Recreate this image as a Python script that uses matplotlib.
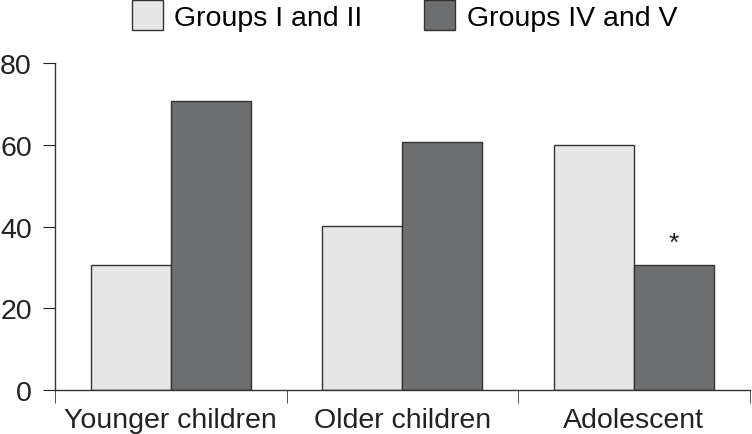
import matplotlib.pyplot as plt
import numpy as np

categories = ['Younger children', 'Older children', 'Adolescent']
groups_1_2 = [30.5, 40.2, 59.9]
groups_4_5 = [70.6, 60.6, 30.6]
series_names = ['Groups I and II', 'Groups IV and V']
star_index = 2
star_y = 36

plt.rcParams['font.family'] = ['Liberation Sans', 'DejaVu Sans']
plt.rcParams['font.size'] = 20.5

fig = plt.figure(figsize=(7.52, 4.35), dpi=100)
ax = fig.add_axes([0.073, 0.101, 0.924, 0.752])

x = np.arange(len(categories)) + 0.5
w = 0.345
b1 = ax.bar(x - w / 2, groups_1_2, w, color='#e6e6e6', edgecolor='#333333', linewidth=1, label=series_names[0])
b2 = ax.bar(x + w / 2, groups_4_5, w, color='#6d6e70', edgecolor='#333333', linewidth=1, label=series_names[1])
ax.text(x[star_index] + w / 2, star_y, '*', ha='center', va='center', fontsize=19, color='#222222')

ax.set_xlim(0, 3)
ax.set_ylim(0, 80)
ax.set_yticks([0, 20, 40, 60, 80])
ax.set_xticks(x)
ax.set_xticklabels(categories)
ax.set_xticks([0, 1, 2, 3], minor=True)
ax.tick_params(axis='x', which='major', length=0, pad=12)
ax.tick_params(axis='x', which='minor', length=9, direction='out', color='#333333')
ax.tick_params(axis='y', length=8.6, direction='out', color='#333333', pad=8)
ax.tick_params(colors='#222222', labelcolor='#222222')
for s in ['top', 'right']:
    ax.spines[s].set_visible(False)
for s in ['left', 'bottom']:
    ax.spines[s].set_color('#333333')
    ax.spines[s].set_linewidth(1)
ax.spines['left'].set_bounds(0, 80)

fig.legend(handles=[b1, b2], labels=series_names, loc='upper left', bbox_to_anchor=(0.1755, 0.997),
           ncol=2, frameon=False, handlelength=1.09, handleheight=1.22, handletextpad=0.39,
           columnspacing=2.18, borderpad=0, borderaxespad=0, fontsize=20.5)

fig.savefig('out.png', dpi=100)
